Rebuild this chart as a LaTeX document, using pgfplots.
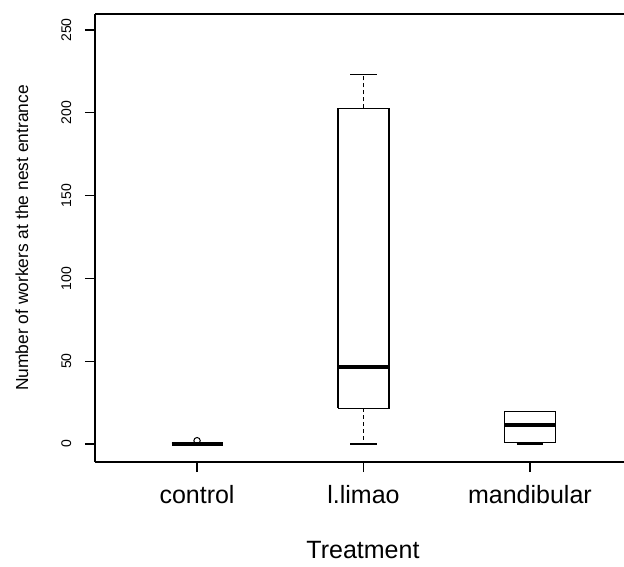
\documentclass[border=0pt]{standalone}
\usepackage{fontspec}
\setmainfont{Liberation Sans}
\usepackage{pgfplots}
\pgfplotsset{compat=1.18}
\pgfplotsset{
  boxline/.style={black, line width=1.3pt, line join=miter, solid, no marks},
  medline/.style={black, line width=3.2pt, no marks},
  whisk/.style={black, line width=1.3pt, dash pattern=on 4pt off 3pt, no marks},
}
\begin{document}
\begin{tikzpicture}
\useasboundingbox (0,0) rectangle (624pt,566pt);
\begin{axis}[
  at={(95pt,104pt)}, anchor=south west,
  scale only axis, width=529pt, height=448pt,
  xmin=0.387, xmax=3.565, ymin=-10.87, ymax=259.66,
  axis x line*=box, axis y line*=left,
  axis line style={-, line width=1.3pt, black},
  tick align=outside, major tick length=10pt,
  tick style={line width=1.3pt, black},
  xtick={1,2,3}, xticklabels={control, l.limao, mandibular},
  ytick={0,50,...,250},
  xtick pos=bottom, ytick pos=left,
  /pgf/number format/assume math mode=true,
  xticklabel style={font=\fontsize{25}{25}\selectfont, anchor=base, inner sep=0pt, yshift=-31pt},
  yticklabel style={font=\fontsize{14}{14}\selectfont, rotate=90, anchor=south, inner sep=0pt},
  yticklabel shift=13.5pt,
  xlabel={Treatment},
  xlabel style={font=\fontsize{25}{25}\selectfont, at={(axis description cs:0.5066,-0.2143)}, anchor=base, inner sep=0pt},
  ylabel={Number of workers at the nest entrance},
  ylabel style={font=\fontsize{17.4}{17.4}\selectfont, at={(axis description cs:-0.138,0.5)}, anchor=center, inner sep=0pt},
]
% control: all values 0, one outlier
\addplot[boxline] coordinates {(0.847,0) (1.153,0)};
\addplot[boxline] coordinates {(0.92,0) (1.08,0)};
\addplot[medline] coordinates {(0.847,0) (1.153,0)};
\addplot[black, only marks, mark=o, mark size=3.2pt, mark options={line width=1pt}] coordinates {(1,2)};
% l.limao
\addplot[whisk] coordinates {(2,21.5) (2,0)};
\addplot[whisk] coordinates {(2,202.7) (2,223)};
\addplot[boxline] coordinates {(1.92,0) (2.08,0)};
\addplot[boxline] coordinates {(1.92,223) (2.08,223)};
\addplot[boxline] coordinates {(1.847,21.5) (2.153,21.5) (2.153,202.7) (1.847,202.7) (1.847,21.5)};
\addplot[medline] coordinates {(1.847,46.5) (2.153,46.5)};
% mandibular
\addplot[whisk] coordinates {(3,1) (3,0)};
\addplot[boxline] coordinates {(2.92,0) (3.08,0)};
\addplot[boxline] coordinates {(2.92,19.5) (3.08,19.5)};
\addplot[boxline] coordinates {(2.847,1) (3.153,1) (3.153,19.5) (2.847,19.5) (2.847,1)};
\addplot[medline] coordinates {(2.847,11.5) (3.153,11.5)};
\end{axis}
\end{tikzpicture}
\end{document}
